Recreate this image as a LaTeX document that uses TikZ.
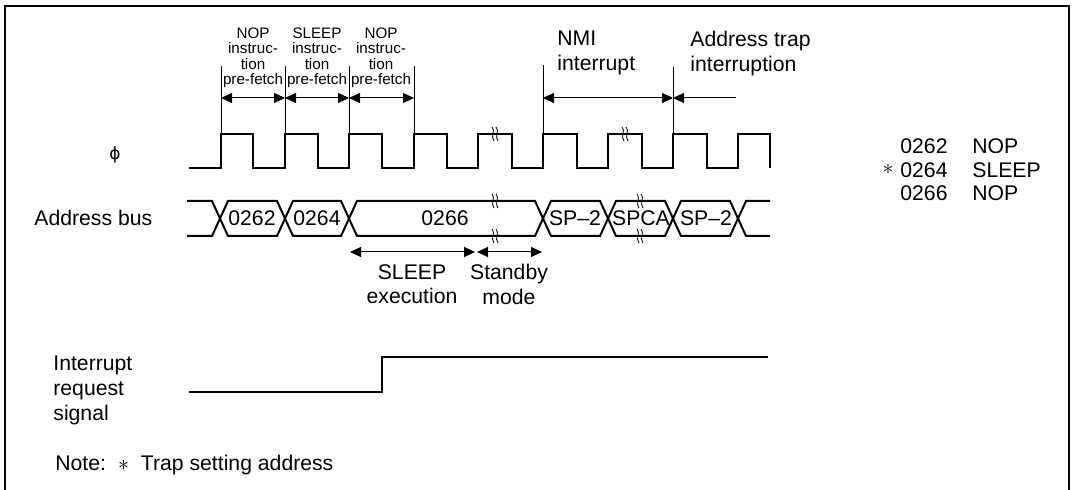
\documentclass[tikz,border=0pt]{standalone}
\usepackage{fontspec}
\setmainfont{Liberation Sans}
\newfontfamily\symfont{DejaVu Sans}
\usetikzlibrary{arrows.meta}
\newcommand{\squig}[2]{%
\draw[squigline] (#1-3,#2-7) .. controls (#1+1,#2-3) and (#1-5,#2+2) .. (#1-1,#2+7);
\draw[squigline] (#1+1,#2-7) .. controls (#1+5,#2-3) and (#1-1,#2+2) .. (#1+3,#2+7);}

\begin{document}
\begin{tikzpicture}[x=0.5pt,y=-0.5pt,
wave/.style={line width=1pt,line join=miter},
tick/.style={line width=0.5pt},
dim/.style={{Triangle[length=5.5pt,width=5pt]}-{Triangle[length=5.5pt,width=5pt]},line width=0.5pt},
dimleft/.style={{Triangle[length=5.5pt,width=5pt]}-,line width=0.5pt},
lbl/.style={inner sep=0pt,font=\fontsize{10.6}{12.3}\selectfont},
small/.style={inner sep=0pt,align=center,font=\fontsize{7.6}{7.75}\selectfont},
squigline/.style={line width=0.4pt}]

\useasboundingbox (0,0) rectangle (1074,490);
\draw[line width=1pt] (5,490) -- (5,6) -- (1069,6) -- (1069,490);

% pre-fetch labels
\node[small,anchor=north] (nop1) at (253,27){NOP\\instruc-\\tion\\pre-fetch};
\node[small,anchor=north] (slp) at (317,27){SLEEP\\instruc-\\tion\\pre-fetch};
\node[small,anchor=north] (nop2) at (381,27){NOP\\instruc-\\tion\\pre-fetch};
\node[lbl,align=left,anchor=north west] (nmi) at (557,31){NMI\\interrupt};
\node[lbl,align=left,anchor=north west] (trap) at (690,31){Address trap\\interruption};

\draw[tick] (221,66) -- (221,134);
\draw[tick] (285,66) -- (285,134);
\draw[tick] (349,66) -- (349,134);
\draw[tick] (414,66) -- (414,134);
\draw[tick] (543,65) -- (543,134);
\draw[tick] (673,67) -- (673,134);

\coordinate (f0) at (221,98);
\coordinate (f1) at (285,98);
\coordinate (f2) at (349,98);
\coordinate (f3) at (414,98);
\coordinate (n0) at (543,98);
\coordinate (n1) at (673,98);
\coordinate (n2) at (736,98);
\draw[dim] (f0) -- (f1);
\draw[dim] (f1) -- (f2);
\draw[dim] (f2) -- (f3);
\draw[dim] (n0) -- (n1);
\draw[dimleft] (n1) -- (n2);

% clock
\node[inner sep=0pt,font=\fontsize{8.5}{10}\selectfont] (phi) at (115,155){\symfont ϕ};
\draw[wave] (189,168) -| (221,134) -| (253,168) -| (285,134) -| (318,168) -| (349,134) -| (382,168)
  -| (414,134) -| (447,168) -| (478,134) -| (512,168) -| (543,134) -| (577,168) -| (608,134)
  -| (642,168) -| (673,134) -| (707,168) -| (738,134) -| (770,168);
\squig{495}{134}
\squig{625}{134}

% address bus
\node[lbl,anchor=west] (abus) at (34,218){Address bus};
\draw[wave] (187,201) -- (212,201) -- (220,218.5) -- (212,236) -- (187,236);
\foreach \a/\b in {220/285,285/349,349/543,543/608,608/673,673/738}
  \draw[wave] (\a,218.5) -- (\a+8,201) -- (\b-8,201) -- (\b,218.5) -- (\b-8,236) -- (\a+8,236) -- cycle;
\draw[wave] (770,201) -- (746,201) -- (738,218.5) -- (746,236) -- (770,236);
\node[lbl] (a0262) at (252,218.5){0262};
\node[lbl] (a0264) at (317,218.5){0264};
\node[lbl] (a0266) at (445,218.5){0266};
\node[lbl] (sp1) at (575,218.5){SP--2};
\node[lbl] (spca) at (641,218.5){SPCA};
\node[lbl] (sp2) at (706,218.5){SP--2};
\squig{495}{201}
\squig{495}{236}
\squig{640}{201}
\squig{640}{236}

\coordinate (s0) at (350,252);
\coordinate (s1) at (475,252);
\coordinate (s2) at (477,252);
\coordinate (s3) at (542,252);
\draw[dim] (s0) -- (s1);
\draw[dim] (s2) -- (s3);
\node[lbl,align=center,anchor=north] (sexec) at (412,264){SLEEP\\execution};
\node[lbl,align=center,anchor=north] (stby) at (509,264){Standby\\mode};

% interrupt request
\node[lbl,align=left,anchor=north west,font=\fontsize{10.6}{12.5}\selectfont] (irq) at (53,356){Interrupt\\request\\signal};
\draw[wave] (189,392) -- (382,392) -- (382,357) -- (768,357);

% program listing
\node[lbl,anchor=west] (l1a) at (900,146){0262};
\node[lbl,anchor=west] (l1b) at (972,146){NOP};
\node[lbl] (star) at (888,169){$\ast$};
\node[lbl,anchor=west] (l2a) at (900,170){0264};
\node[lbl,anchor=west] (l2b) at (972,170){SLEEP};
\node[lbl,anchor=west] (l3a) at (900,193){0266};
\node[lbl,anchor=west] (l3b) at (972,193){NOP};

\node[lbl,anchor=west] (note) at (55,465){Note:\hspace{6pt}$\ast$\hspace{3pt} Trap setting address};
\end{tikzpicture}
\end{document}
